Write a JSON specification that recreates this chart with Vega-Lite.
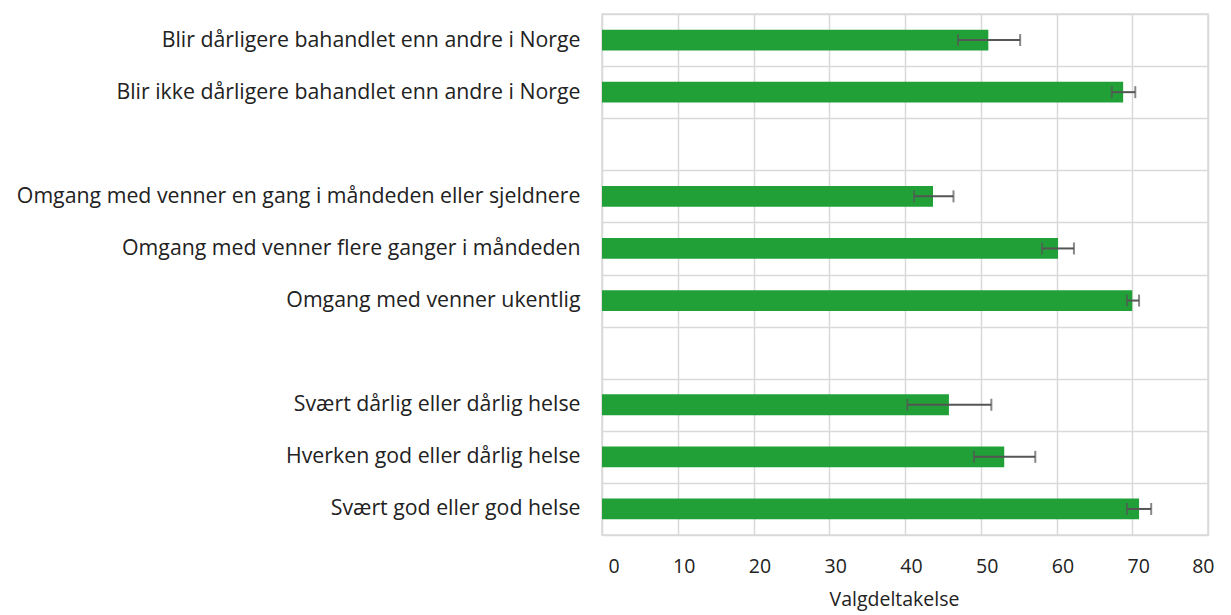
{
  "$schema": "https://vega.github.io/schema/vega-lite/v6.json",
  "width": 606,
  "height": 521,
  "autosize": {"type": "none"},
  "padding": {"left": 602, "top": 14, "right": 23, "bottom": 80},
  "background": "white",
  "config": {
    "font": "Open Sans",
    "view": {"stroke": "#d9d9d9", "strokeWidth": 1.5},
    "axis": {"labelFont": "Open Sans", "titleFont": "Open Sans", "labelColor": "#222222", "titleColor": "#222222", "gridColor": "#d9d9d9", "gridWidth": 1.5, "domain": false, "ticks": false}
  },
  "data": {
    "values": [
      {"kategori": "Blir dårligere bahandlet enn andre i Norge", "andel": 51.0, "lav": 47.0, "hoy": 55.2},
      {"kategori": "Blir ikke dårligere bahandlet enn andre i Norge", "andel": 68.8, "lav": 67.3, "hoy": 70.4},
      {"kategori": "Omgang med venner en gang i måndeden eller sjeldnere\u00a0", "andel": 43.7, "lav": 41.2, "hoy": 46.4},
      {"kategori": "Omgang med venner flere ganger i måndeden", "andel": 60.2, "lav": 58.1, "hoy": 62.3},
      {"kategori": "Omgang med venner ukentlig", "andel": 70.0, "lav": 69.3, "hoy": 70.9},
      {"kategori": "Svært dårlig eller dårlig helse\u00a0", "andel": 45.8, "lav": 40.3, "hoy": 51.4},
      {"kategori": "Hverken god eller dårlig helse", "andel": 53.1, "lav": 49.1, "hoy": 57.2},
      {"kategori": "Svært god eller god helse", "andel": 70.9, "lav": 69.3, "hoy": 72.5}
    ]
  },
  "encoding": {
    "y": {
      "field": "kategori",
      "type": "nominal",
      "title": null,
      "scale": {
        "domain": [
          "Blir dårligere bahandlet enn andre i Norge",
          "Blir ikke dårligere bahandlet enn andre i Norge",
          " ",
          "Omgang med venner en gang i måndeden eller sjeldnere\u00a0",
          "Omgang med venner flere ganger i måndeden",
          "Omgang med venner ukentlig",
          "  ",
          "Svært dårlig eller dårlig helse\u00a0",
          "Hverken god eller dårlig helse",
          "Svært god eller god helse"
        ],
        "paddingInner": 0,
        "paddingOuter": 0
      },
      "axis": {
        "labelFontSize": 21.3,
        "labelPadding": 22,
        "labelLimit": 800,
        "grid": true,
        "tickBand": "extent"
      }
    },
    "x": {
      "field": "andel",
      "type": "quantitative",
      "title": "Valgdeltakelse",
      "scale": {"domain": [0, 80], "nice": false},
      "axis": {"values": [0, 10, 20, 30, 40, 50, 60, 70, 80], "labelFontSize": 19.5, "titleFontSize": 19.5, "titleFontWeight": "normal", "labelPadding": 22, "titlePadding": 15, "titleX": 292, "labelOffset": 6, "grid": true}
    }
  },
  "layer": [
    {
      "mark": {"type": "bar", "color": "#21a038", "height": {"band": 0.4}}
    },
    {
      "mark": {"type": "rule", "color": "#555555", "strokeWidth": 2},
      "encoding": {
        "x": {"field": "lav", "type": "quantitative"},
        "x2": {"field": "hoy"}
      }
    },
    {
      "mark": {"type": "tick", "color": "#555555", "thickness": 2, "size": 12},
      "encoding": {"x": {"field": "lav", "type": "quantitative"}}
    },
    {
      "mark": {"type": "tick", "color": "#555555", "thickness": 2, "size": 12},
      "encoding": {"x": {"field": "hoy", "type": "quantitative"}}
    }
  ]
}
